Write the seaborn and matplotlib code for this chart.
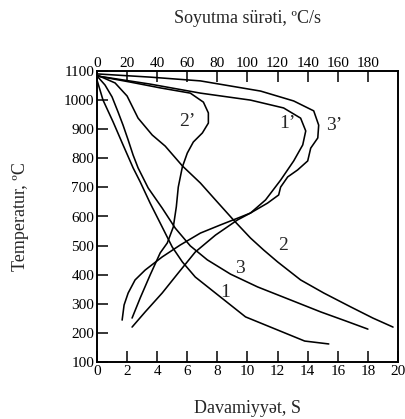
import numpy as np
import pandas as pd
import matplotlib
matplotlib.use("Agg")
import matplotlib.pyplot as plt
from matplotlib.ticker import FixedLocator, NullLocator
import seaborn as sns

# ---- data: duration curves (bottom axis, s) ----
c1_t = [0, 0.4, 1.07, 1.73, 2.4, 2.87, 3.53, 4.33, 5.0, 5.67, 6.53, 7.87, 9.87, 12.0, 13.8, 15.4]
c1_T = [1069, 1000, 925, 846, 767, 719, 646, 564, 495, 444, 392, 337, 255, 210, 172, 162]

c2_t = [0, 1.2, 2.0, 2.73, 3.67, 4.53, 5.67, 6.87, 7.87, 9.07, 10.2, 11.07, 12.0, 13.53, 15.07, 16.87, 18.33, 19.67]
c2_T = [1086, 1059, 1014, 938, 880, 842, 774, 715, 657, 588, 526, 485, 444, 382, 337, 289, 251, 220]

c3_t = [0, 0.53, 1.0, 1.4, 1.73, 2.07, 2.4, 2.73, 3.4, 4.33, 5.2, 6.2, 7.33, 8.87, 10.67, 12.87, 14.87, 16.53, 18.0]
c3_T = [1083, 1052, 1011, 959, 914, 863, 811, 767, 698, 629, 560, 499, 451, 402, 358, 313, 272, 241, 213]

# ---- data: cooling-rate curves (top axis, ºC/s) ----
p1_v = [0, 35.3, 68.7, 102, 124, 135.3, 138.7, 136.7, 130.7, 122, 112, 102, 93.3, 78.7, 65.3, 54, 43.3, 32, 23.3]
p1_T = [1083, 1055, 1024, 1000, 973, 938, 894, 846, 791, 725, 657, 612, 588, 536, 478, 406, 337, 272, 220]

p2_v = [0, 22, 42, 62, 70.7, 74, 74, 70, 64, 60, 56.7, 54, 52.7, 50.7, 46.7, 42, 35.3, 28.7, 23.3]
p2_T = [1083, 1062, 1042, 1024, 993, 956, 921, 887, 856, 818, 770, 701, 633, 564, 509, 475, 399, 320, 251]

p3_v = [0, 35.3, 68.7, 108.7, 130.7, 144, 147.3, 146.7, 142, 140, 133.3, 126.7, 122, 120.7, 113.3, 102,
        95.3, 82, 68.7, 55.3, 43.3, 32, 25.3, 20.7, 18, 16.7]
p3_T = [1090, 1079, 1066, 1031, 997, 963, 914, 870, 835, 791, 760, 736, 701, 674, 646, 612,
        598, 571, 543, 502, 461, 416, 382, 337, 296, 244]

bottom_ticks = [0, 2, 4, 6, 8, 10, 12, 14, 16, 18, 20]
top_ticks = [0, 20, 40, 60, 80, 100, 120, 140, 160, 180]
y_ticks = [100, 200, 300, 400, 500, 600, 700, 800, 900, 1000, 1100]

curve_labels = [("1", 8.53, 339), ("2", 12.33, 502), ("3", 9.53, 423)]
prime_labels = [("1\u2019", 126.7, 921), ("2\u2019", 60, 925), ("3\u2019", 157.3, 914)]

# ---- plotting ----
sns.set_style("ticks")
plt.rcParams["font.family"] = ["Liberation Serif", "DejaVu Serif"]

fig = plt.figure(figsize=(4.06, 4.19), dpi=100)
ax = fig.add_axes([97/406, 1-362/419, (398-97)/406, (362-71)/419])
ax2 = ax.twiny()

lw = 1.15
for t, T in [(c1_t, c1_T), (c2_t, c2_T), (c3_t, c3_T)]:
    df = pd.DataFrame({"t": t, "T": T})
    sns.lineplot(data=df, x="t", y="T", ax=ax, sort=False, estimator=None, color="black", linewidth=lw)
for v, T in [(p1_v, p1_T), (p2_v, p2_T), (p3_v, p3_T)]:
    df = pd.DataFrame({"v": v, "T": T})
    sns.lineplot(data=df, x="v", y="T", ax=ax2, sort=False, estimator=None, color="black", linewidth=lw)

ax.set_xlim(0, 20)
ax.set_ylim(100, 1100)
ax2.set_xlim(0, 200)

ax.xaxis.set_major_locator(FixedLocator(bottom_ticks))
ax.yaxis.set_major_locator(FixedLocator(y_ticks))
ax2.xaxis.set_major_locator(FixedLocator(top_ticks))
ax2.xaxis.set_minor_locator(NullLocator())
ax.set_xticklabels([str(t) for t in bottom_ticks])
ax.set_yticklabels([str(t) for t in y_ticks])
ax2.set_xticklabels([str(t) for t in top_ticks])
ax2.set_ylabel("")

for a in (ax, ax2):
    for s in a.spines.values():
        s.set_linewidth(1.2)
        s.set_color("black")
ax.tick_params(axis="both", direction="in", length=8, width=1.1, labelsize=11, pad=2, colors="black")
ax2.tick_params(axis="x", direction="in", length=8, width=1.1, labelsize=11, pad=1, colors="black")

ax.set_xlabel("Davamiyyət, S", fontsize=13, labelpad=16)
ax.set_ylabel("Temperatur, ºC", fontsize=13, labelpad=25)
ax2.set_xlabel("Soyutma sürəti, ºC/s", fontsize=13, labelpad=24)

for s, x, y in curve_labels:
    ax.text(x, y, s, fontsize=14, ha="center", va="center")
for s, x, y in prime_labels:
    ax2.text(x, y, s, fontsize=14, ha="center", va="center")

fig.savefig("out.png", dpi=100)
